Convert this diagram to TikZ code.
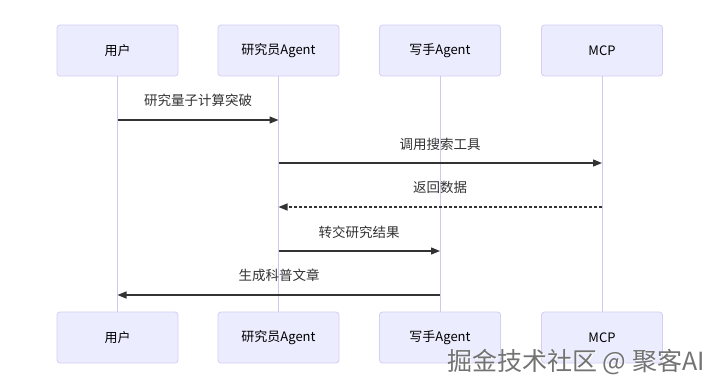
\documentclass[tikz,border=0pt]{standalone}
\usepackage{fontspec}
\setmainfont{Noto Sans CJK SC}
\usetikzlibrary{arrows.meta}
\definecolor{actfill}{HTML}{ECECFF}
\definecolor{actline}{HTML}{D6CDF2}
\definecolor{lifeln}{HTML}{CFC8F0}
\definecolor{msgc}{HTML}{333333}
\tikzset{
  actor/.style={draw=actline, fill=actfill, line width=0.8pt, rounded corners=3pt,
    minimum width=121pt, minimum height=51pt, inner sep=0pt, font=\fontsize{13}{15}\selectfont, text=black},
  life/.style={draw=lifeln, line width=1pt},
  msg/.style={draw=msgc, line width=1.3pt, -{Triangle[length=9pt,width=7pt]}},
  reply/.style={msg, dash pattern=on 3pt off 2pt},
  mlabel/.style={font=\fontsize{13.5}{15}\selectfont, text=msgc},
  wmark/.style={font=\fontsize{25}{27}\selectfont},
}
\begin{document}
\begin{tikzpicture}[x=1pt,y=-1pt]
\useasboundingbox (0,0) rectangle (720,389);
\fill[white] (0,0) rectangle (720,389);
% top actors
\node[actor] (u1) at (117.5,50.5) {用户};
\node[actor] (r1) at (278.5,50.5) {研究员Agent};
\node[actor] (w1) at (440,50.5) {写手Agent};
\node[actor] (m1) at (602,50.5) {MCP};
% bottom actors
\node[actor] (u2) at (117.5,337.5) {用户};
\node[actor] (r2) at (278.5,337.5) {研究员Agent};
\node[actor] (w2) at (440,337.5) {写手Agent};
\node[actor] (m2) at (602,337.5) {MCP};
% lifelines
\draw[life] (u1.south) -- (u2.north);
\draw[life] (r1.south) -- (r2.north);
\draw[life] (w1.south) -- (w2.north);
\draw[life] (m1.south) -- (m2.north);
% message anchors
\coordinate (a1s) at (u1.south |- 0,120);
\coordinate (a1e) at (r1.south |- 0,120);
\coordinate (a2s) at (r1.south |- 0,163);
\coordinate (a2e) at (m1.south |- 0,163);
\coordinate (a3s) at (m1.south |- 0,207);
\coordinate (a3e) at (r1.south |- 0,207);
\coordinate (a4s) at (r1.south |- 0,251);
\coordinate (a4e) at (w1.south |- 0,251);
\coordinate (a5s) at (w1.south |- 0,295);
\coordinate (a5e) at (u1.south |- 0,295);
\draw[msg] (a1s) -- (a1e);
\draw[msg] (a2s) -- (a2e);
\draw[reply] (a3s) -- (a3e);
\draw[msg] (a4s) -- (a4e);
\draw[msg] (a5s) -- (a5e);
\node[mlabel] (l1) at (198,100) {研究量子计算突破};
\node[mlabel] (l2) at (440,144) {调用搜索工具};
\node[mlabel] (l3) at (440,187) {返回数据};
\node[mlabel] (l4) at (359,232) {转交研究结果};
\node[mlabel] (l5) at (279,275) {生成科普文章};
% watermark
\node[wmark, text=white] (wms) at (576.8,362.8) {掘金技术社区 @ 聚客AI};
\node[wmark, text=black!55] (wm) at (576,362) {掘金技术社区 @ 聚客AI};
\end{tikzpicture}
\end{document}
